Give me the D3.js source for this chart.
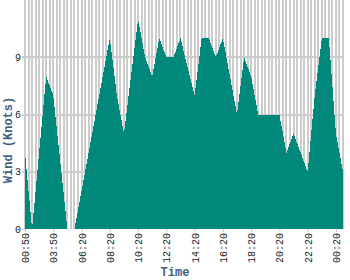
<!DOCTYPE html>
<html>
<head>
<meta charset="utf-8">
<script src="https://cdn.jsdelivr.net/npm/d3@7"></script>
<style>
  body { margin: 0; background: #fff; }
  .tick text { font-family: "Liberation Mono", monospace; font-size: 10px; fill: #222; }
  .title { font-family: "Liberation Mono", monospace; font-size: 12px; font-weight: bold; fill: #3f5f85; }
</style>
</head>
<body>
<svg width="350" height="280"></svg>
<script>
// wind speed, one reading per observation (46 obs)
var wind = [4, 0, 4, 8, 7, 3.5, 0, 0, 2, 4, 6, 8, 10, 7, 5, 8, 11, 9, 8, 10, 9, 9, 10, 8.5,
            7, 10, 10, 9, 10, 8, 6, 9, 8, 6, 6, 6, 6, 4, 5, 4, 3, 7, 10, 10, 5, 3];
var timeLabels = ["00:50", "03:50", "06:20", "08:20", "10:20", "12:20",
                  "14:20", "16:20", "18:20", "20:20", "22:20", "00:20"];
var yTicks = [0, 3, 6, 9];

var svg = d3.select("svg"),
    width = +svg.attr("width"),
    height = +svg.attr("height"),
    margin = {top: 0, right: 7, bottom: 51, left: 25},
    w = width - margin.left - margin.right,
    h = height - margin.top - margin.bottom;

var g = svg.append("g").attr("transform", "translate(" + margin.left + "," + margin.top + ")");

var x = d3.scaleLinear().domain([0, wind.length - 1]).range([0, w]);
var y = d3.scaleLinear().domain([0, 12]).range([h, 0]);

// vertical grid, every half observation
g.append("g").selectAll("line").data(d3.range(0, wind.length - 0.5, 0.5)).enter().append("line")
  .attr("x1", x).attr("x2", x).attr("y1", 0).attr("y2", h)
  .attr("stroke", "#ccc").attr("stroke-width", 2).attr("shape-rendering", "crispEdges");

g.append("g").selectAll("line").data(yTicks.slice(1)).enter().append("line")
  .attr("x1", -3).attr("x2", w).attr("y1", y).attr("y2", y)
  .attr("stroke", "#ccc").attr("stroke-width", 2).attr("shape-rendering", "crispEdges");

g.append("path").datum(wind)
  .attr("fill", "#00897b").attr("shape-rendering", "crispEdges")
  .attr("d", d3.area().x(function(d, i){ return x(i); }).y0(h).y1(function(d){ return y(d); }));

var xAxis = g.append("g").attr("transform", "translate(0," + h + ")")
  .call(d3.axisBottom(x).tickValues(d3.range(0, wind.length, 4)).tickSize(3)
        .tickFormat(function(d){ return timeLabels[d / 4]; }));
xAxis.select(".domain").remove();
xAxis.selectAll(".tick line").attr("stroke", "#ccc");
xAxis.selectAll(".tick text").attr("transform", "rotate(-90)").attr("text-anchor", "end")
  .attr("x", -4).attr("y", 0).attr("dy", "0.35em");

var yAxis = g.append("g").call(d3.axisLeft(y).tickValues(yTicks).tickSize(3));
yAxis.select(".domain").remove();
yAxis.selectAll(".tick line").attr("stroke", "#ccc");
yAxis.selectAll(".tick text").attr("x", -4);

svg.append("text").attr("class", "title").attr("text-anchor", "middle")
  .attr("x", width / 2).attr("y", height - 4).text("Time");
svg.append("text").attr("class", "title").attr("text-anchor", "middle")
  .attr("transform", "translate(12," + height / 2 + ") rotate(-90)").text("Wind (Knots)");
</script>
</body>
</html>
